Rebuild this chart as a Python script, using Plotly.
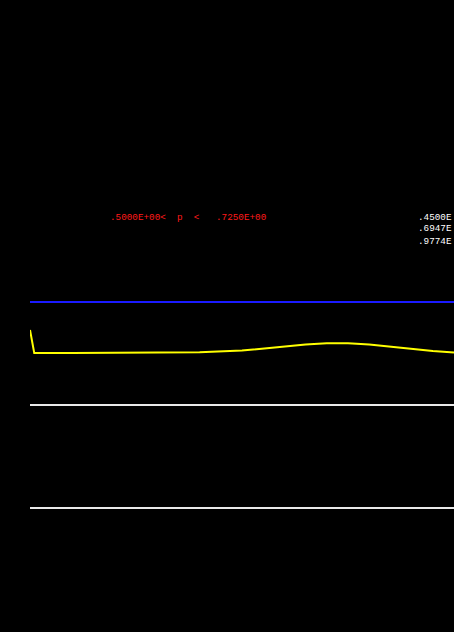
import plotly.graph_objects as go

# p(t) curve
t_vals = [0.0, 0.01, 0.1, 0.2, 0.3, 0.4, 0.5, 0.55, 0.6, 0.65, 0.7, 0.75, 0.8, 0.85, 0.9, 0.95, 1.0]
p_vals = [0.728, 0.505, 0.505, 0.506, 0.510, 0.512, 0.529, 0.549, 0.568, 0.587, 0.599, 0.600,
          0.587, 0.565, 0.544, 0.524, 0.510]

# reference levels
upper_level = 1.0
ref_levels = [0.0, -1.0]

# labels (the right-hand ones are cut at the edge in the original)
range_label = ".5000E+00<  p  <   .7250E+00"
side_labels = [".4500E", ".6947E", ".9774E"]
side_label_y = [1.825, 1.709, 1.592]

fig = go.Figure()

fig.add_trace(
    go.Scatter(
        x=[t_vals[0], t_vals[-1]],
        y=[upper_level, upper_level],
        mode="lines",
        line=dict(color="#1a1aff", width=2),
    )
)
for lvl in ref_levels:
    fig.add_trace(
        go.Scatter(
            x=[t_vals[0], t_vals[-1]],
            y=[lvl, lvl],
            mode="lines",
            line=dict(color="#e8e8e8", width=2),
        )
    )
fig.add_trace(
    go.Scatter(
        x=t_vals,
        y=p_vals,
        mode="lines",
        line=dict(color="#ffff00", width=2),
    )
)

fig.add_annotation(
    text=range_label,
    x=0.184,
    xref="paper",
    y=1.825,
    yref="y",
    xanchor="left",
    showarrow=False,
    font=dict(family="Liberation Mono", size=9.3, color="#ff1a1a"),
)
for lab, yy in zip(side_labels, side_label_y):
    fig.add_annotation(
        text=lab,
        x=1.0,
        xref="paper",
        y=yy,
        yref="y",
        xanchor="right",
        showarrow=False,
        font=dict(family="Liberation Mono", size=9.3, color="#ffffff"),
    )

fig.update_xaxes(range=[0, 1], visible=False)
fig.update_yaxes(range=[-2.2039, 3.9320], visible=False)
fig.update_layout(
    width=454,
    height=632,
    margin=dict(l=30, r=0, t=0, b=0),
    paper_bgcolor="#000000",
    plot_bgcolor="#000000",
    showlegend=False,
)

fig.write_html(
    "out.html",
    config={"displayModeBar": False},
    post_script="document.body.style.margin='0';document.body.style.background='#000';",
)
